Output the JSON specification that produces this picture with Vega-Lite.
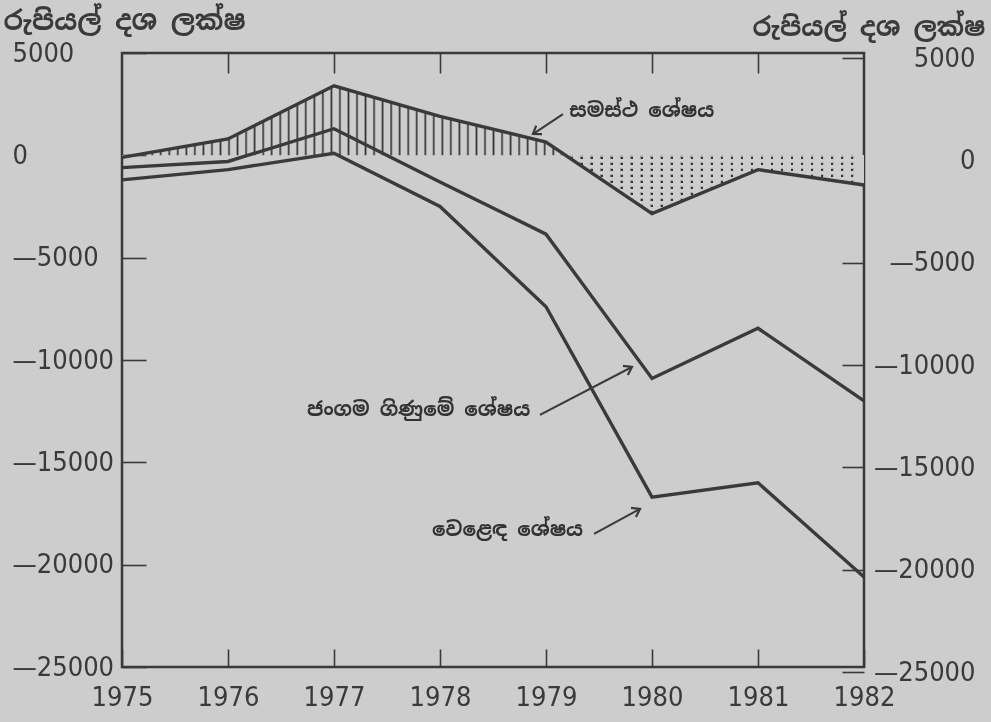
{
  "$schema": "https://vega.github.io/schema/vega-lite/v6.json",
  "width": 742,
  "height": 614,
  "autosize": "none",
  "padding": {"left": 122, "top": 53, "right": 127, "bottom": 55},
  "background": "#cdcdcd",
  "config": {
    "view": {"stroke": "#3a3a3a", "strokeWidth": 2.5},
    "axis": {
      "labelFont": "DejaVu Sans Condensed, Liberation Sans Narrow, sans-serif",
      "labelFontSize": 27,
      "labelColor": "#3a3a3a",
      "tickColor": "#3a3a3a",
      "tickWidth": 1.6,
      "domain": false,
      "grid": false,
      "titleColor": "#3a3a3a"
    }
  },
  "datasets": {
    "balances": [
      {"year": 1975, "overall": -100, "current": -600, "trade": -1200},
      {"year": 1976, "overall": 800, "current": -300, "trade": -700},
      {"year": 1977, "overall": 3400, "current": 1300, "trade": 100},
      {"year": 1978, "overall": 1900, "current": -1300, "trade": -2500},
      {"year": 1979, "overall": 650, "current": -3850, "trade": -7400},
      {"year": 1980, "overall": -2850, "current": -10900, "trade": -16700},
      {"year": 1981, "overall": -700, "current": -8450, "trade": -16000},
      {"year": 1982, "overall": -1450, "current": -12000, "trade": -20600}
    ],
    "notes": [
      {"label": "සමස්ථ ශේෂය", "x": 1979.22, "y": 2150},
      {"label": "ජංගම ගිණුමේ ශේෂය", "x": 1976.745, "y": -12440},
      {"label": "වෙළෙඳ ශේෂය", "x": 1977.925, "y": -18300}
    ],
    "arrows": [
      {"id": "overall", "x1": 1979.16, "y1": 2017, "x2": 1978.877, "y2": 1040},
      {"id": "current", "x1": 1978.943, "y1": -12686, "x2": 1979.811, "y2": -10342},
      {"id": "trade", "x1": 1979.453, "y1": -18499, "x2": 1979.887, "y2": -17278}
    ]
  },
  "layer": [
    {
      "layer": [
        {
          "data": {"name": "balances"},
          "mark": {
            "type": "area",
            "fill": {
              "gradient": "linear", "x1": 0, "x2": 1, "y1": 0, "y2": 0,
              "stops": [
                {"offset": 0, "color": "#cdcdcd"},
                {"offset": 0.004, "color": "#cdcdcd"}, {"offset": 0.0062, "color": "#333"}, {"offset": 0.0085, "color": "#cdcdcd"},
                {"offset": 0.0155, "color": "#cdcdcd"}, {"offset": 0.0177, "color": "#333"}, {"offset": 0.02, "color": "#cdcdcd"},
                {"offset": 0.027, "color": "#cdcdcd"}, {"offset": 0.0292, "color": "#333"}, {"offset": 0.0315, "color": "#cdcdcd"},
                {"offset": 0.0385, "color": "#cdcdcd"}, {"offset": 0.0407, "color": "#333"}, {"offset": 0.043, "color": "#cdcdcd"},
                {"offset": 0.05, "color": "#cdcdcd"}, {"offset": 0.0522, "color": "#333"}, {"offset": 0.0545, "color": "#cdcdcd"},
                {"offset": 0.0615, "color": "#cdcdcd"}, {"offset": 0.0637, "color": "#333"}, {"offset": 0.066, "color": "#cdcdcd"},
                {"offset": 0.073, "color": "#cdcdcd"}, {"offset": 0.0752, "color": "#333"}, {"offset": 0.0775, "color": "#cdcdcd"},
                {"offset": 0.0845, "color": "#cdcdcd"}, {"offset": 0.0867, "color": "#333"}, {"offset": 0.089, "color": "#cdcdcd"},
                {"offset": 0.096, "color": "#cdcdcd"}, {"offset": 0.0982, "color": "#333"}, {"offset": 0.1005, "color": "#cdcdcd"},
                {"offset": 0.1075, "color": "#cdcdcd"}, {"offset": 0.1097, "color": "#333"}, {"offset": 0.112, "color": "#cdcdcd"},
                {"offset": 0.119, "color": "#cdcdcd"}, {"offset": 0.1212, "color": "#333"}, {"offset": 0.1235, "color": "#cdcdcd"},
                {"offset": 0.1305, "color": "#cdcdcd"}, {"offset": 0.1327, "color": "#333"}, {"offset": 0.135, "color": "#cdcdcd"},
                {"offset": 0.142, "color": "#cdcdcd"}, {"offset": 0.1442, "color": "#333"}, {"offset": 0.1465, "color": "#cdcdcd"},
                {"offset": 0.1535, "color": "#cdcdcd"}, {"offset": 0.1557, "color": "#333"}, {"offset": 0.158, "color": "#cdcdcd"},
                {"offset": 0.165, "color": "#cdcdcd"}, {"offset": 0.1672, "color": "#333"}, {"offset": 0.1695, "color": "#cdcdcd"},
                {"offset": 0.1765, "color": "#cdcdcd"}, {"offset": 0.1787, "color": "#333"}, {"offset": 0.181, "color": "#cdcdcd"},
                {"offset": 0.188, "color": "#cdcdcd"}, {"offset": 0.1902, "color": "#333"}, {"offset": 0.1925, "color": "#cdcdcd"},
                {"offset": 0.1995, "color": "#cdcdcd"}, {"offset": 0.2017, "color": "#333"}, {"offset": 0.204, "color": "#cdcdcd"},
                {"offset": 0.211, "color": "#cdcdcd"}, {"offset": 0.2132, "color": "#333"}, {"offset": 0.2155, "color": "#cdcdcd"},
                {"offset": 0.2225, "color": "#cdcdcd"}, {"offset": 0.2247, "color": "#333"}, {"offset": 0.227, "color": "#cdcdcd"},
                {"offset": 0.234, "color": "#cdcdcd"}, {"offset": 0.2362, "color": "#333"}, {"offset": 0.2385, "color": "#cdcdcd"},
                {"offset": 0.2455, "color": "#cdcdcd"}, {"offset": 0.2477, "color": "#333"}, {"offset": 0.25, "color": "#cdcdcd"},
                {"offset": 0.257, "color": "#cdcdcd"}, {"offset": 0.2592, "color": "#333"}, {"offset": 0.2615, "color": "#cdcdcd"},
                {"offset": 0.2685, "color": "#cdcdcd"}, {"offset": 0.2707, "color": "#333"}, {"offset": 0.273, "color": "#cdcdcd"},
                {"offset": 0.28, "color": "#cdcdcd"}, {"offset": 0.2822, "color": "#333"}, {"offset": 0.2845, "color": "#cdcdcd"},
                {"offset": 0.2915, "color": "#cdcdcd"}, {"offset": 0.2937, "color": "#333"}, {"offset": 0.296, "color": "#cdcdcd"},
                {"offset": 0.303, "color": "#cdcdcd"}, {"offset": 0.3052, "color": "#333"}, {"offset": 0.3075, "color": "#cdcdcd"},
                {"offset": 0.3145, "color": "#cdcdcd"}, {"offset": 0.3167, "color": "#333"}, {"offset": 0.319, "color": "#cdcdcd"},
                {"offset": 0.326, "color": "#cdcdcd"}, {"offset": 0.3282, "color": "#333"}, {"offset": 0.3305, "color": "#cdcdcd"},
                {"offset": 0.3375, "color": "#cdcdcd"}, {"offset": 0.3397, "color": "#333"}, {"offset": 0.342, "color": "#cdcdcd"},
                {"offset": 0.349, "color": "#cdcdcd"}, {"offset": 0.3512, "color": "#333"}, {"offset": 0.3535, "color": "#cdcdcd"},
                {"offset": 0.3605, "color": "#cdcdcd"}, {"offset": 0.3627, "color": "#333"}, {"offset": 0.365, "color": "#cdcdcd"},
                {"offset": 0.372, "color": "#cdcdcd"}, {"offset": 0.3742, "color": "#333"}, {"offset": 0.3765, "color": "#cdcdcd"},
                {"offset": 0.3835, "color": "#cdcdcd"}, {"offset": 0.3857, "color": "#333"}, {"offset": 0.388, "color": "#cdcdcd"},
                {"offset": 0.395, "color": "#cdcdcd"}, {"offset": 0.3972, "color": "#333"}, {"offset": 0.3995, "color": "#cdcdcd"},
                {"offset": 0.4065, "color": "#cdcdcd"}, {"offset": 0.4087, "color": "#333"}, {"offset": 0.411, "color": "#cdcdcd"},
                {"offset": 0.418, "color": "#cdcdcd"}, {"offset": 0.4202, "color": "#333"}, {"offset": 0.4225, "color": "#cdcdcd"},
                {"offset": 0.4295, "color": "#cdcdcd"}, {"offset": 0.4317, "color": "#333"}, {"offset": 0.434, "color": "#cdcdcd"},
                {"offset": 0.441, "color": "#cdcdcd"}, {"offset": 0.4432, "color": "#333"}, {"offset": 0.4455, "color": "#cdcdcd"},
                {"offset": 0.4525, "color": "#cdcdcd"}, {"offset": 0.4547, "color": "#333"}, {"offset": 0.457, "color": "#cdcdcd"},
                {"offset": 0.464, "color": "#cdcdcd"}, {"offset": 0.4662, "color": "#333"}, {"offset": 0.4685, "color": "#cdcdcd"},
                {"offset": 0.4755, "color": "#cdcdcd"}, {"offset": 0.4777, "color": "#333"}, {"offset": 0.48, "color": "#cdcdcd"},
                {"offset": 0.487, "color": "#cdcdcd"}, {"offset": 0.4892, "color": "#333"}, {"offset": 0.4915, "color": "#cdcdcd"},
                {"offset": 0.4985, "color": "#cdcdcd"}, {"offset": 0.5007, "color": "#333"}, {"offset": 0.503, "color": "#cdcdcd"},
                {"offset": 0.51, "color": "#cdcdcd"}, {"offset": 0.5122, "color": "#333"}, {"offset": 0.5145, "color": "#cdcdcd"},
                {"offset": 0.5215, "color": "#cdcdcd"}, {"offset": 0.5237, "color": "#333"}, {"offset": 0.526, "color": "#cdcdcd"},
                {"offset": 0.533, "color": "#cdcdcd"}, {"offset": 0.5352, "color": "#333"}, {"offset": 0.5375, "color": "#cdcdcd"},
                {"offset": 0.5445, "color": "#cdcdcd"}, {"offset": 0.5467, "color": "#333"}, {"offset": 0.549, "color": "#cdcdcd"},
                {"offset": 0.556, "color": "#cdcdcd"}, {"offset": 0.5582, "color": "#333"}, {"offset": 0.5605, "color": "#cdcdcd"},
                {"offset": 0.5675, "color": "#cdcdcd"}, {"offset": 0.5697, "color": "#333"}, {"offset": 0.572, "color": "#cdcdcd"},
                {"offset": 0.579, "color": "#cdcdcd"}, {"offset": 0.5812, "color": "#333"}, {"offset": 0.5835, "color": "#cdcdcd"},
                {"offset": 0.5905, "color": "#cdcdcd"}, {"offset": 0.5927, "color": "#333"}, {"offset": 0.595, "color": "#cdcdcd"},
                {"offset": 0.604, "color": "#cdcdcd"}, {"offset": 0.6047, "color": "#333"}, {"offset": 0.6073, "color": "#333"}, {"offset": 0.608, "color": "#cdcdcd"},
                {"offset": 0.6175, "color": "#cdcdcd"}, {"offset": 0.6182, "color": "#333"}, {"offset": 0.6208, "color": "#333"}, {"offset": 0.6215, "color": "#cdcdcd"},
                {"offset": 0.631, "color": "#cdcdcd"}, {"offset": 0.6317, "color": "#333"}, {"offset": 0.6343, "color": "#333"}, {"offset": 0.635, "color": "#cdcdcd"},
                {"offset": 0.6445, "color": "#cdcdcd"}, {"offset": 0.6452, "color": "#333"}, {"offset": 0.6478, "color": "#333"}, {"offset": 0.6485, "color": "#cdcdcd"},
                {"offset": 0.658, "color": "#cdcdcd"}, {"offset": 0.6587, "color": "#333"}, {"offset": 0.6613, "color": "#333"}, {"offset": 0.662, "color": "#cdcdcd"},
                {"offset": 0.6715, "color": "#cdcdcd"}, {"offset": 0.6722, "color": "#333"}, {"offset": 0.6748, "color": "#333"}, {"offset": 0.6755, "color": "#cdcdcd"},
                {"offset": 0.685, "color": "#cdcdcd"}, {"offset": 0.6857, "color": "#333"}, {"offset": 0.6883, "color": "#333"}, {"offset": 0.689, "color": "#cdcdcd"},
                {"offset": 0.6985, "color": "#cdcdcd"}, {"offset": 0.6992, "color": "#333"}, {"offset": 0.7018, "color": "#333"}, {"offset": 0.7025, "color": "#cdcdcd"},
                {"offset": 0.712, "color": "#cdcdcd"}, {"offset": 0.7127, "color": "#333"}, {"offset": 0.7153, "color": "#333"}, {"offset": 0.716, "color": "#cdcdcd"},
                {"offset": 0.7255, "color": "#cdcdcd"}, {"offset": 0.7262, "color": "#333"}, {"offset": 0.7288, "color": "#333"}, {"offset": 0.7295, "color": "#cdcdcd"},
                {"offset": 0.739, "color": "#cdcdcd"}, {"offset": 0.7397, "color": "#333"}, {"offset": 0.7423, "color": "#333"}, {"offset": 0.743, "color": "#cdcdcd"},
                {"offset": 0.7525, "color": "#cdcdcd"}, {"offset": 0.7532, "color": "#333"}, {"offset": 0.7558, "color": "#333"}, {"offset": 0.7565, "color": "#cdcdcd"},
                {"offset": 0.766, "color": "#cdcdcd"}, {"offset": 0.7667, "color": "#333"}, {"offset": 0.7693, "color": "#333"}, {"offset": 0.77, "color": "#cdcdcd"},
                {"offset": 0.7795, "color": "#cdcdcd"}, {"offset": 0.7802, "color": "#333"}, {"offset": 0.7828, "color": "#333"}, {"offset": 0.7835, "color": "#cdcdcd"},
                {"offset": 0.793, "color": "#cdcdcd"}, {"offset": 0.7937, "color": "#333"}, {"offset": 0.7963, "color": "#333"}, {"offset": 0.797, "color": "#cdcdcd"},
                {"offset": 0.8065, "color": "#cdcdcd"}, {"offset": 0.8072, "color": "#333"}, {"offset": 0.8098, "color": "#333"}, {"offset": 0.8105, "color": "#cdcdcd"},
                {"offset": 0.82, "color": "#cdcdcd"}, {"offset": 0.8207, "color": "#333"}, {"offset": 0.8233, "color": "#333"}, {"offset": 0.824, "color": "#cdcdcd"},
                {"offset": 0.8335, "color": "#cdcdcd"}, {"offset": 0.8342, "color": "#333"}, {"offset": 0.8368, "color": "#333"}, {"offset": 0.8375, "color": "#cdcdcd"},
                {"offset": 0.847, "color": "#cdcdcd"}, {"offset": 0.8477, "color": "#333"}, {"offset": 0.8503, "color": "#333"}, {"offset": 0.851, "color": "#cdcdcd"},
                {"offset": 0.8605, "color": "#cdcdcd"}, {"offset": 0.8612, "color": "#333"}, {"offset": 0.8638, "color": "#333"}, {"offset": 0.8645, "color": "#cdcdcd"},
                {"offset": 0.874, "color": "#cdcdcd"}, {"offset": 0.8747, "color": "#333"}, {"offset": 0.8773, "color": "#333"}, {"offset": 0.878, "color": "#cdcdcd"},
                {"offset": 0.8875, "color": "#cdcdcd"}, {"offset": 0.8882, "color": "#333"}, {"offset": 0.8908, "color": "#333"}, {"offset": 0.8915, "color": "#cdcdcd"},
                {"offset": 0.901, "color": "#cdcdcd"}, {"offset": 0.9017, "color": "#333"}, {"offset": 0.9043, "color": "#333"}, {"offset": 0.905, "color": "#cdcdcd"},
                {"offset": 0.9145, "color": "#cdcdcd"}, {"offset": 0.9152, "color": "#333"}, {"offset": 0.9178, "color": "#333"}, {"offset": 0.9185, "color": "#cdcdcd"},
                {"offset": 0.928, "color": "#cdcdcd"}, {"offset": 0.9287, "color": "#333"}, {"offset": 0.9313, "color": "#333"}, {"offset": 0.932, "color": "#cdcdcd"},
                {"offset": 0.9415, "color": "#cdcdcd"}, {"offset": 0.9422, "color": "#333"}, {"offset": 0.9448, "color": "#333"}, {"offset": 0.9455, "color": "#cdcdcd"},
                {"offset": 0.955, "color": "#cdcdcd"}, {"offset": 0.9557, "color": "#333"}, {"offset": 0.9583, "color": "#333"}, {"offset": 0.959, "color": "#cdcdcd"},
                {"offset": 0.9685, "color": "#cdcdcd"}, {"offset": 0.9692, "color": "#333"}, {"offset": 0.9718, "color": "#333"}, {"offset": 0.9725, "color": "#cdcdcd"},
                {"offset": 0.982, "color": "#cdcdcd"}, {"offset": 0.9827, "color": "#333"}, {"offset": 0.9853, "color": "#333"}, {"offset": 0.986, "color": "#cdcdcd"},
                {"offset": 1, "color": "#cdcdcd"}
              ]
            }
          },
          "encoding": {
            "x": {
              "field": "year", "type": "quantitative",
              "scale": {"domain": [1975, 1982], "nice": false, "zero": false},
              "axis": {
                "orient": "bottom",
                "values": [1975, 1976, 1977, 1978, 1979, 1980, 1981, 1982],
                "format": "d", "labelFlush": false,
                "offset": -18, "tickSize": 18, "labelPadding": 17,
                "title": null
              }
            },
            "y": {
              "field": "overall", "type": "quantitative",
              "scale": {"domain": [-25000, 5000], "nice": false, "zero": false},
              "axis": {
                "orient": "left",
                "values": [5000, 0, -5000, -10000, -15000, -20000, -25000],
                "labelExpr": "datum.value < 0 ? '—' + format(-datum.value, 'd') : format(datum.value, 'd')",
                "offset": -24, "tickSize": 24, "labelPadding": 110, "labelAlign": "left",
                "title": "රුපියල් දශ ලක්ෂ",
                "titleAngle": 0, "titleAlign": "left", "titleBaseline": "middle",
                "titleX": -143, "titleY": -32,
                "titleFont": "Noto Sans Sinhala, Noto Serif Sinhala, sans-serif",
                "titleFontSize": 27, "titleFontWeight": "bold"
              }
            },
            "y2": {"datum": 0}
          }
        },
        {
          "data": {"name": "balances"},
          "transform": [{"filter": "datum.year >= 1979"}],
          "mark": {
            "type": "area",
            "blend": "lighten",
            "fill": {
              "gradient": "linear", "x1": 0, "x2": 0, "y1": 0, "y2": 1,
              "stops": [
                {"offset": 0, "color": "rgba(205,205,205,0)"},
                {"offset": 0.186, "color": "rgba(205,205,205,0)"},
                {"offset": 0.1865, "color": "#cdcdcd"},
                {"offset": 0.2, "color": "#cdcdcd"}, {"offset": 0.208, "color": "#333"}, {"offset": 0.234, "color": "#333"}, {"offset": 0.242, "color": "#cdcdcd"},
                {"offset": 0.2838, "color": "#cdcdcd"}, {"offset": 0.2918, "color": "#333"}, {"offset": 0.3178, "color": "#333"}, {"offset": 0.3258, "color": "#cdcdcd"},
                {"offset": 0.3676, "color": "#cdcdcd"}, {"offset": 0.3756, "color": "#333"}, {"offset": 0.4016, "color": "#333"}, {"offset": 0.4096, "color": "#cdcdcd"},
                {"offset": 0.4514, "color": "#cdcdcd"}, {"offset": 0.4594, "color": "#333"}, {"offset": 0.4854, "color": "#333"}, {"offset": 0.4934, "color": "#cdcdcd"},
                {"offset": 0.5352, "color": "#cdcdcd"}, {"offset": 0.5432, "color": "#333"}, {"offset": 0.5692, "color": "#333"}, {"offset": 0.5772, "color": "#cdcdcd"},
                {"offset": 0.619, "color": "#cdcdcd"}, {"offset": 0.627, "color": "#333"}, {"offset": 0.653, "color": "#333"}, {"offset": 0.661, "color": "#cdcdcd"},
                {"offset": 0.7028, "color": "#cdcdcd"}, {"offset": 0.7108, "color": "#333"}, {"offset": 0.7368, "color": "#333"}, {"offset": 0.7448, "color": "#cdcdcd"},
                {"offset": 0.7866, "color": "#cdcdcd"}, {"offset": 0.7946, "color": "#333"}, {"offset": 0.8206, "color": "#333"}, {"offset": 0.8286, "color": "#cdcdcd"},
                {"offset": 0.8704, "color": "#cdcdcd"}, {"offset": 0.8784, "color": "#333"}, {"offset": 0.9044, "color": "#333"}, {"offset": 0.9124, "color": "#cdcdcd"},
                {"offset": 0.9542, "color": "#cdcdcd"}, {"offset": 0.9622, "color": "#333"}, {"offset": 0.9882, "color": "#333"}, {"offset": 0.9962, "color": "#cdcdcd"},
                {"offset": 1, "color": "#cdcdcd"}
              ]
            }
          },
          "encoding": {
            "x": {"field": "year", "type": "quantitative"},
            "y": {"field": "overall", "type": "quantitative"},
            "y2": {"datum": 0}
          }
        },
        {
          "mark": {"type": "rule", "color": "#3a3a3a", "strokeWidth": 2.2},
          "encoding": {
            "x": {"datum": 1974.96, "type": "quantitative"},
            "x2": {"datum": 1982.17},
            "y": {"datum": 0, "type": "quantitative"}
          }
        },
        {
          "data": {"name": "balances"},
          "transform": [{"fold": ["overall", "current", "trade"], "as": ["series", "value"]}],
          "mark": {"type": "line", "color": "#3a3a3a", "strokeWidth": 3.4, "strokeJoin": "miter"},
          "encoding": {
            "x": {"field": "year", "type": "quantitative"},
            "y": {"field": "value", "type": "quantitative"},
            "detail": {"field": "series"},
            "order": {"field": "year"}
          }
        },
        {
          "data": {"name": "arrows"},
          "mark": {"type": "rule", "color": "#3a3a3a", "strokeWidth": 2},
          "encoding": {
            "x": {"field": "x1", "type": "quantitative"},
            "y": {"field": "y1", "type": "quantitative"},
            "x2": {"field": "x2"},
            "y2": {"field": "y2"}
          }
        },
        {
          "data": {"name": "arrows"},
          "transform": [{"filter": "datum.id == 'overall'"}],
          "mark": {"type": "point", "shape": "M -0.7 1 L 0 0 L 0.7 1", "filled": false, "color": "#3a3a3a", "opacity": 1, "strokeWidth": 2.2, "size": 220, "angle": 236},
          "encoding": {
            "x": {"field": "x2", "type": "quantitative"},
            "y": {"field": "y2", "type": "quantitative"}
          }
        },
        {
          "data": {"name": "arrows"},
          "transform": [{"filter": "datum.id == 'current'"}],
          "mark": {"type": "point", "shape": "M -0.7 1 L 0 0 L 0.7 1", "filled": false, "color": "#3a3a3a", "opacity": 1, "strokeWidth": 2.2, "size": 220, "angle": 62},
          "encoding": {
            "x": {"field": "x2", "type": "quantitative"},
            "y": {"field": "y2", "type": "quantitative"}
          }
        },
        {
          "data": {"name": "arrows"},
          "transform": [{"filter": "datum.id == 'trade'"}],
          "mark": {"type": "point", "shape": "M -0.7 1 L 0 0 L 0.7 1", "filled": false, "color": "#3a3a3a", "opacity": 1, "strokeWidth": 2.2, "size": 220, "angle": 62},
          "encoding": {
            "x": {"field": "x2", "type": "quantitative"},
            "y": {"field": "y2", "type": "quantitative"}
          }
        },
        {
          "data": {"name": "notes"},
          "mark": {"type": "text", "align": "left", "baseline": "middle", "font": "Noto Sans Sinhala, Noto Serif Sinhala, sans-serif", "fontSize": 20, "fontWeight": "bold", "color": "#333"},
          "encoding": {
            "x": {"field": "x", "type": "quantitative"},
            "y": {"field": "y", "type": "quantitative"},
            "text": {"field": "label"}
          }
        }
      ]
    },
    {
      "data": {"name": "balances"},
      "mark": {"type": "point", "opacity": 0},
      "encoding": {
        "x": {
          "field": "year", "type": "quantitative",
          "scale": {"domain": [1975, 1982], "nice": false, "zero": false},
          "axis": {
            "orient": "top",
            "values": [1976, 1977, 1978, 1979, 1980, 1981],
            "labels": false, "offset": -20, "tickSize": 20, "title": null
          }
        },
        "y": {
          "field": "overall", "type": "quantitative",
          "scale": {"domain": [-25000, 5000], "nice": false, "zero": false},
          "axis": {
            "orient": "right",
            "values": [5000, 0, -5000, -10000, -15000, -20000, -25000],
            "labelExpr": "datum.value < 0 ? '—' + format(-datum.value, 'd') : format(datum.value, 'd')",
            "offset": -22, "tickSize": 22, "labelPadding": 111, "labelAlign": "right",
            "tickOffset": 5,
            "title": "රුපියල් දශ ලක්ෂ",
            "titleAngle": 0, "titleAlign": "right", "titleBaseline": "middle",
            "titleX": 143, "titleY": -26,
            "titleFont": "Noto Sans Sinhala, Noto Serif Sinhala, sans-serif",
            "titleFontSize": 26, "titleFontWeight": "bold"
          }
        }
      }
    }
  ],
  "resolve": {"scale": {"x": "independent", "y": "independent"}}
}
